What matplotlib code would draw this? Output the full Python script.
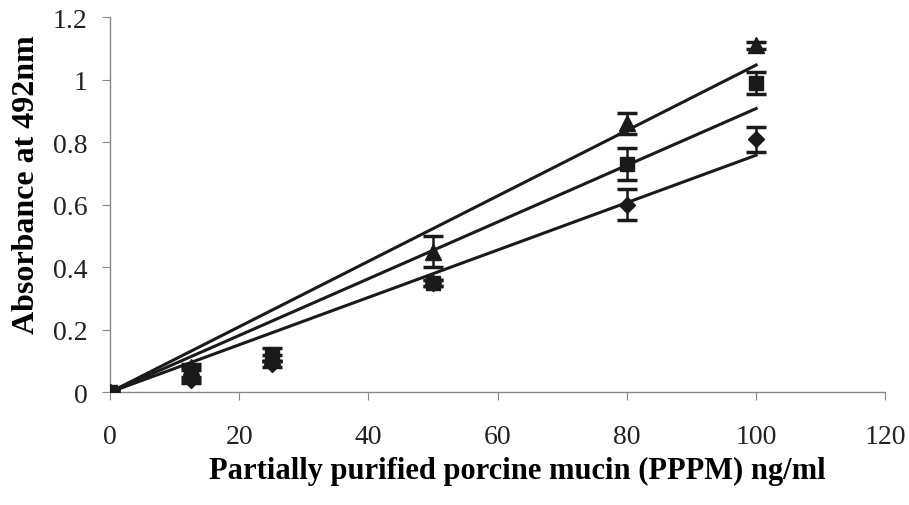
import numpy as np
import matplotlib
matplotlib.use('Agg')
import matplotlib.pyplot as plt

plt.rcParams['font.family'] = ['Liberation Serif', 'DejaVu Serif']

conc = [0, 12.5, 25, 50, 80, 100]

tri_y = [0, 0.08, 0.11, 0.45, 0.86, 1.11]
tri_err = [0.005, 0.01, 0.01, 0.05, 0.035, 0.012]
sq_y = [0, 0.06, 0.12, 0.35, 0.73, 0.99]
sq_err = [0.005, 0.02, 0.02, 0.01, 0.05, 0.035]
dia_y = [0, 0.04, 0.09, 0.35, 0.60, 0.81]
dia_err = [0.005, 0.01, 0.01, 0.01, 0.05, 0.04]

series = [
    (tri_y, tri_err, '^', 11),
    (sq_y, sq_err, 's', 10),
    (dia_y, dia_err, 'D', 8),
]

fig = plt.figure(figsize=(9.09, 5.06), dpi=100)
ax = fig.add_axes([0.121, 0.223, 0.853, 0.741])

x = np.array(conc)
for y, err, m, ms in series:
    y = np.array(y)
    ax.errorbar(x, y, yerr=err, fmt=m, color='#1a1a1a', ms=ms,
                capsize=7, capthick=2.5, elinewidth=1.8, zorder=3)
    # linear trend line forced through the origin
    slope = (x * y).sum() / (x * x).sum()
    xs = np.array([0, 100])
    ax.plot(xs, slope * xs, color='#1a1a1a', lw=2.2, zorder=2)

ax.set_xlim(0, 120)
ax.set_ylim(0, 1.2)
ax.set_xticks([0, 20, 40, 60, 80, 100, 120])
ax.set_yticks([0, 0.2, 0.4, 0.6, 0.8, 1.0, 1.2])
ax.set_yticklabels(['0', '0.2', '0.4', '0.6', '0.8', '1', '1.2'])
ax.set_xlabel('Partially purified porcine mucin (PPPM) ng/ml',
              fontsize=22, fontweight='bold', labelpad=5, x=0.525)
ax.set_ylabel('Absorbance at 492nm', fontsize=23, fontweight='bold',
              labelpad=9, y=0.555)

for s in ['top', 'right']:
    ax.spines[s].set_visible(False)
for s in ['left', 'bottom']:
    ax.spines[s].set_color('#888888')
    ax.spines[s].set_linewidth(1)
ax.tick_params(axis='both', labelsize=20, color='#888888', length=6,
               labelcolor='#222222')
ax.tick_params(axis='x', pad=17)
ax.tick_params(axis='y', pad=10)

plt.savefig('out.png', dpi=100)
